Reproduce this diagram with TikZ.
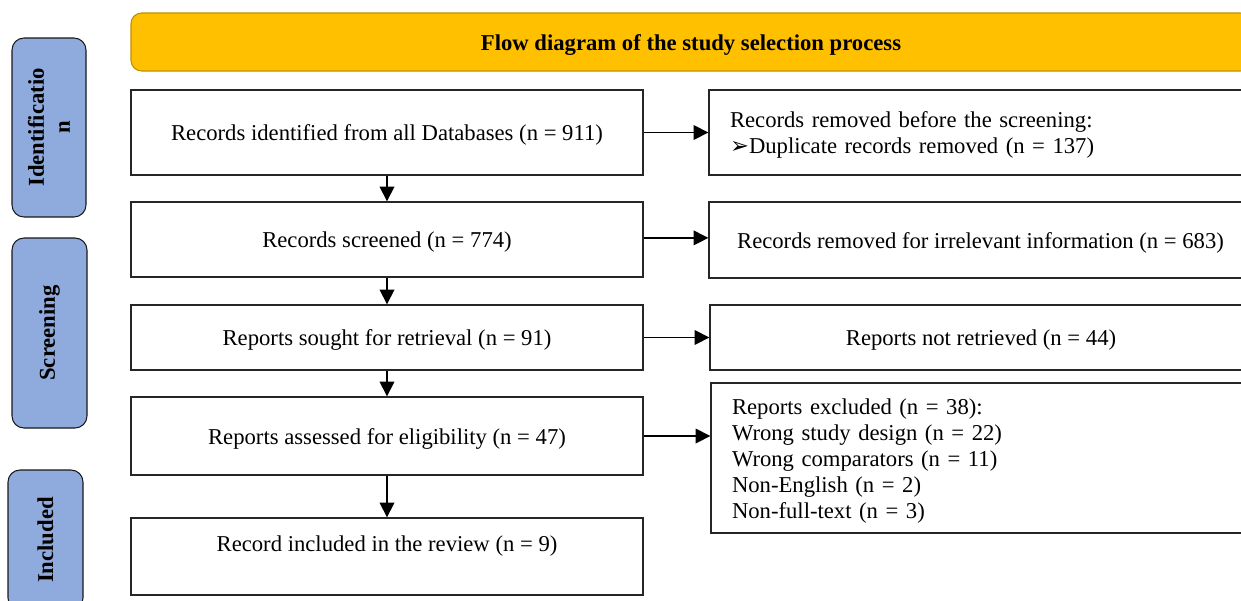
\documentclass[tikz,border=0pt]{standalone}
\usepackage{fontspec}
\setmainfont{Liberation Serif}
\newfontfamily\symfont{DejaVu Sans}
\usetikzlibrary{arrows.meta}
\definecolor{banner}{HTML}{FFC000}
\definecolor{bannerline}{HTML}{BF9000}
\definecolor{phase}{HTML}{8FAADC}
\begin{document}
\begin{tikzpicture}[x=0.75pt,y=-0.75pt,
  txt/.style={font=\fontsize{17}{19.5}\selectfont},
  box/.style={txt,draw=black!85,line width=1pt,fill=white,minimum width=384pt,inner sep=0pt,text height=16pt,text depth=3.7pt},
  sidebox/.style={txt,draw=black!85,line width=1pt,fill=white,inner ysep=0pt,text height=16pt},
  phasebox/.style={font=\fontsize{17}{19.5}\selectfont\bfseries,draw=black!90,line width=0.8pt,fill=phase,rounded corners=9pt,rotate=90,align=center,inner sep=0pt},
  arr/.style={-{Triangle[length=11pt,width=11pt]},line width=1pt}]
\useasboundingbox (0,0) rectangle (1241,600);
\clip (0,0) rectangle (1241,600);

% banner
\node[font=\fontsize{17}{19.5}\selectfont\bfseries,draw=bannerline,line width=0.8pt,fill=banner,rounded corners=8pt,
  minimum width=840pt,minimum height=43.5pt,text height=16pt,text depth=3.7pt] (title) at (691,42) {Flow diagram of the study selection process};

% phases
\node[phasebox,minimum width=134.25pt,minimum height=55.5pt] (ident) at (49,127.5) {Identificatio\\n};
\node[phasebox,minimum width=142.5pt,minimum height=56.25pt] (screen) at (49.5,333) {Screening};
\node[phasebox,minimum width=105pt,minimum height=56.25pt] (incl) at (45.5,540) {Included};

% main column
\node[box,minimum height=63.75pt] (rec) at (387,132.5) {Records identified from all Databases (n = 911)};
\node[box,minimum height=56.25pt] (scr) at (387,239.5) {Records screened (n = 774)};
\node[box,minimum height=48.75pt] (sought) at (387,337.5) {Reports sought for retrieval (n = 91)};
\node[box,minimum height=58.5pt] (elig) at (387,436) {Reports assessed for eligibility (n = 47)};
\node[txt,draw=black!85,line width=1pt,fill=white,minimum width=384pt,inner sep=0pt,align=center,minimum height=57.75pt]
  (incd) at (387,556.5) {Record included in the review (n = 9)\\ \mbox{}};

% right column
\node[sidebox,text width=375.75pt,inner xsep=15.75pt,minimum height=63.75pt,align=left] (dup) at (980.5,132.5)
  {Records removed before the screening:\\{\symfont\fontsize{17}{19.5}\selectfont ➢}Duplicate records removed (n = 137)};
\node[sidebox,minimum width=407.25pt,minimum height=57pt,text depth=3.7pt] (irr) at (980.5,240) {Records removed for irrelevant information (n = 683)};
\node[sidebox,minimum width=406.5pt,minimum height=48.75pt,text depth=3.7pt] (notret) at (981,337.5) {Reports not retrieved (n = 44)};
\node[sidebox,text width=375.75pt,inner xsep=15.75pt,minimum height=112.5pt,align=left] (excl) at (982.5,458)
  {Reports excluded (n = 38):\\Wrong study design (n = 22)\\Wrong comparators (n = 11)\\Non-English (n = 2)\\Non-full-text (n = 3)};

% arrows
\draw[arr] (rec) -- (scr);
\draw[arr] (scr) -- (sought);
\draw[arr] (sought) -- (elig);
\draw[arr] (elig) -- (incd);
\draw[arr] (rec.east) -- (rec.east -| dup.west);
\draw[arr] ([yshift=1.2pt]scr.east) -- ([yshift=1.2pt]scr.east -| irr.west);
\draw[arr] (sought.east) -- (sought.east -| notret.west);
\draw[arr] (elig.east) -- (elig.east -| excl.west);
\end{tikzpicture}
\end{document}
